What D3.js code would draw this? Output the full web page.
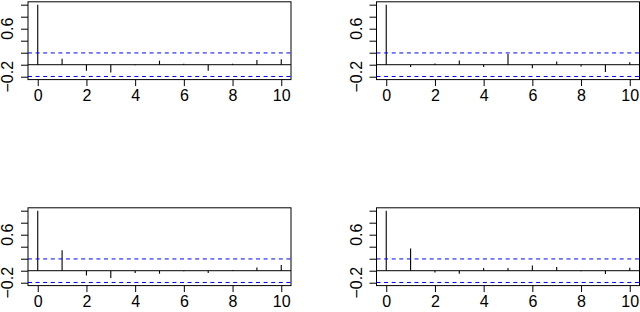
<!DOCTYPE html>
<html>
<head>
<meta charset="utf-8">
<script src="https://cdn.jsdelivr.net/npm/d3@7"></script>
<style>
  body { margin: 0; background: #fff; }
  svg { display: block; }
  text { font-family: "Liberation Sans", Arial, sans-serif; font-size: 16px; fill: #000; }
</style>
</head>
<body>
<div id="vis"></div>
<script>
// lags and ACF values
var lags = [0, 1, 2, 3, 4, 5, 6, 7, 8, 9, 10];
var acfTopLeft     = [1, 0.10, -0.10, -0.13, -0.01, 0.067, 0.015, -0.10, 0.015, 0.08, 0.09];
var acfTopRight    = [1, -0.04, 0.02, 0.07, -0.04, 0.18, -0.06, 0.055, -0.03, -0.12, 0.04];
var acfBottomLeft  = [1, 0.34, -0.08, -0.12, -0.04, -0.05, -0.01, -0.04, 0.01, 0.055, 0.095];
var acfBottomRight = [1, 0.37, -0.03, -0.05, 0.045, 0.045, 0.085, 0.06, -0.01, -0.055, 0.05];
var confBound = 0.196;
var xTicks = [0, 2, 4, 6, 8, 10];
var yTicks = [-0.2, 0, 0.2, 0.4, 0.6, 0.8, 1.0];
var yLabels = [-0.2, 0.6];

var width = 640, height = 312;
var boxW = 263, boxH = 77.8;

// where each panel's plot box sits
var panels = [
  { acf: acfTopLeft,     left: 28,    top: 1.8 },
  { acf: acfTopRight,    left: 376.5, top: 1.8 },
  { acf: acfBottomLeft,  left: 28,    top: 207.8 },
  { acf: acfBottomRight, left: 376.5, top: 207.8 }
];

var svg = d3.select('#vis')
  .append('svg')
  .attr('width', width)
  .attr('height', height);

function fmt(v) {
  return v < 0 ? '\u2212' + Math.abs(v).toFixed(1) : v.toFixed(1);
}

function drawPanel(p) {
  var x = d3.scaleLinear().domain([-0.4, 10.4]).range([p.left, p.left + boxW]);
  var y = d3.scaleLinear().domain([-0.248, 1.048]).range([p.top + boxH, p.top]);

  var g = svg.append('g');

  // spikes
  g.selectAll('line.spike')
    .data(lags)
    .enter().append('line')
    .attr('class', 'spike')
    .attr('x1', d => x(d)).attr('x2', d => x(d))
    .attr('y1', y(0))
    .attr('y2', (d, i) => y(p.acf[i]))
    .attr('stroke', '#000')
    .attr('stroke-width', 1.1);

  // zero line
  g.append('line')
    .attr('x1', p.left).attr('x2', p.left + boxW)
    .attr('y1', y(0)).attr('y2', y(0))
    .attr('stroke', '#000');

  // confidence bounds
  g.selectAll('line.ci')
    .data([confBound, -confBound])
    .enter().append('line')
    .attr('class', 'ci')
    .attr('x1', p.left).attr('x2', p.left + boxW)
    .attr('y1', d => y(d)).attr('y2', d => y(d))
    .attr('stroke', '#0000ff')
    .attr('stroke-width', 1)
    .attr('stroke-dasharray', '4,3.6');

  // box
  g.append('rect')
    .attr('x', p.left).attr('y', p.top)
    .attr('width', boxW).attr('height', boxH)
    .attr('fill', 'none')
    .attr('stroke', '#000');

  // x axis
  var xAxis = d3.axisBottom(x).tickValues(xTicks).tickSize(6.5).tickPadding(4).tickFormat(d3.format('d'));
  var xa = g.append('g')
    .attr('transform', 'translate(0,' + (p.top + boxH) + ')')
    .call(xAxis);
  xa.select('.domain').remove();
  xa.selectAll('text').style('font-size', '16px').style('font-family', '"Liberation Sans", Arial, sans-serif');

  // y axis ticks
  var yAxis = d3.axisLeft(y).tickValues(yTicks).tickSize(7).tickFormat('');
  var ya = g.append('g')
    .attr('transform', 'translate(' + p.left + ',0)')
    .call(yAxis);
  ya.select('.domain').remove();

  // y labels, parallel to the axis
  g.selectAll('text.ylab')
    .data(yLabels)
    .enter().append('text')
    .attr('class', 'ylab')
    .attr('text-anchor', 'middle')
    .attr('transform', d => 'translate(' + (p.left - 14.7) + ',' + y(d) + ') rotate(-90)')
    .text(fmt);
}

panels.forEach(drawPanel);
</script>
</body>
</html>
